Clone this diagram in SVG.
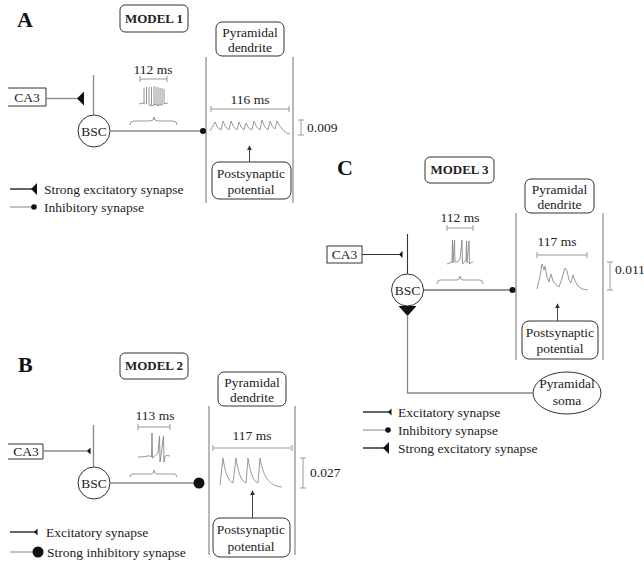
<svg xmlns="http://www.w3.org/2000/svg" width="644" height="561" viewBox="0 0 644 561">
  <style>
    text { font-family: "Liberation Serif", "Times New Roman", serif; font-size: 13.5px; fill: #222; }
    .panel { font-size: 22px; font-weight: bold; fill: #111; }
    .model { font-size: 13px; font-weight: bold; text-anchor: middle; }
    .mid { text-anchor: middle; }
    .box { fill: #fff; stroke: #333; stroke-width: 1; }
    .wire { fill: none; stroke: #888; stroke-width: 1.3; }
    .dark { fill: none; stroke: #333; stroke-width: 1.1; }
    .wall { fill: none; stroke: #888; stroke-width: 1.2; }
    .scale { fill: none; stroke: #999; stroke-width: 1; }
    .trace { fill: none; stroke: #999; stroke-width: 1; stroke-linejoin: round; }
    .spike { fill: none; stroke: #888; stroke-width: 0.9; }
    .arrow { fill: none; stroke: #444; stroke-width: 1; marker-end: url(#tip); }
    .syn { fill: #111; stroke: none; }
  </style>
  <defs>
    <marker id="tip" viewBox="0 0 6 6" refX="5" refY="3" markerWidth="5" markerHeight="5" orient="auto">
      <path d="M0,0 L6,3 L0,6 z" fill="#333"/>
    </marker>
  </defs>

  <!-- ===== Panel A : model 1 ===== -->
  <text class="panel" x="17" y="27">A</text>
  <g id="a-model">
    <rect class="box" x="120" y="5" width="68" height="27" rx="5"/>
    <text class="model" x="154" y="23">MODEL 1</text>
  </g>
  <g id="a-dendrite">
    <rect class="box" x="216" y="22" width="68" height="34" rx="6"/>
    <text class="mid" x="250" y="37">Pyramidal</text>
    <text class="mid" x="250" y="52">dendrite</text>
  </g>
  <g id="a-ca3">
    <path class="box" d="M8,88 H46 V106 H8" fill="none"/>
    <text class="mid" x="27" y="102">CA3</text>
  </g>
  <g id="a-bsc">
    <circle class="box" cx="94" cy="131" r="16"/>
    <text class="mid" x="94" y="136">BSC</text>
  </g>
  <g id="a-psp">
    <rect class="box" x="212" y="162" width="79" height="37" rx="7"/>
    <text class="mid" x="251" y="178">Postsynaptic</text>
    <text class="mid" x="251" y="194">potential</text>
  </g>
  <g id="a-connectors">
    <line class="wall" x1="206" y1="57" x2="206" y2="203"/>
    <line class="wall" x1="293" y1="57" x2="293" y2="203"/>
    <line class="wire" x1="46" y1="98.5" x2="78" y2="98.5"/>
    <polygon class="syn" points="77,98.5 84,91.5 84,105.5"/>
    <line class="wire" x1="93.5" y1="75" x2="93.5" y2="115"/>
    <line class="wire" x1="110" y1="131" x2="201" y2="131"/>
    <circle class="syn" cx="203" cy="131" r="3"/>
    <line class="arrow" x1="249.5" y1="162" x2="249.5" y2="146"/>
  </g>
  <g id="a-recordings">
    <text class="mid" x="153" y="74">112 ms</text>
    <path class="scale" d="M140,79 H167 M140,76 V82 M167,76 V82"/>
    <path class="spike" d="M139,104 Q143,102 145,104 M144,104 V88 M146.5,104 V87 M149,105 V87 M151.5,105 V87 M154,106 V86 M156,105 V87 M158,106 V87 M160,105 V88 M162,106 V88 M164,104 V89 M164,104 Q166,103 168,103 M149,105 Q152,107 155,104 Q158,107 162,104"/>
    <path class="scale" d="M130,125 Q130,121 134,121 H150 Q154,121 154,117 Q154,121 158,121 H173 Q177,121 177,125"/>
    <text class="mid" x="250" y="104">116 ms</text>
    <path class="scale" d="M211,109 H289 M211,106 V112 M289,106 V112"/>
    <path class="trace" d="M210,131 L215,122 Q217,129 221,130 L223,121 Q225,128 229,130 L231,121 Q233,128 237,130 L239,122 Q241,128 244,130 L246,123 Q248,129 252,130 L254,121 Q256,128 260,130 L262,120 Q264,128 268,130 L270,121 Q272,128 275,129 L277,121 Q283,133 290,134"/>
    <path class="scale" d="M301,120 V135 M298,120 H304 M298,135 H304"/>
    <text x="307" y="132">0.009</text>
  </g>
  <g id="a-legend">
    <line x1="10" y1="189" x2="32" y2="189" stroke="#111" stroke-width="1.3"/>
    <polygon class="syn" points="31,189 37,183 37,195"/>
    <text x="44" y="194">Strong excitatory synapse</text>
    <line x1="10" y1="207" x2="32" y2="207" stroke="#999" stroke-width="1.2"/>
    <circle class="syn" cx="34" cy="207" r="2.8"/>
    <text x="44" y="212">Inhibitory synapse</text>
  </g>

  <!-- ===== Panel B : model 2 ===== -->
  <text class="panel" x="18" y="372">B</text>
  <g id="b-model">
    <rect class="box" x="120" y="353" width="68" height="26" rx="5"/>
    <text class="model" x="154" y="370">MODEL 2</text>
  </g>
  <g id="b-dendrite">
    <rect class="box" x="218" y="372" width="68" height="34" rx="6"/>
    <text class="mid" x="252" y="387">Pyramidal</text>
    <text class="mid" x="252" y="402">dendrite</text>
  </g>
  <g id="b-ca3">
    <path class="box" d="M8,444 H43 V459 H8" fill="none"/>
    <text class="mid" x="26" y="456">CA3</text>
  </g>
  <g id="b-bsc">
    <circle class="box" cx="94" cy="483" r="16"/>
    <text class="mid" x="94" y="488">BSC</text>
  </g>
  <g id="b-psp">
    <rect class="box" x="213" y="518" width="77" height="39" rx="7"/>
    <text class="mid" x="251" y="534">Postsynaptic</text>
    <text class="mid" x="251" y="551">potential</text>
  </g>
  <g id="b-connectors">
    <line class="wall" x1="209" y1="406" x2="209" y2="555"/>
    <line class="wall" x1="295" y1="406" x2="295" y2="555"/>
    <line class="wire" x1="43" y1="451" x2="89" y2="451"/>
    <polygon class="syn" points="87,451 90.5,447.5 90.5,454.5"/>
    <line class="wire" x1="93.5" y1="425" x2="93.5" y2="467"/>
    <line class="wire" x1="110" y1="483" x2="195" y2="483"/>
    <circle class="syn" cx="199" cy="483" r="5.5"/>
    <line class="arrow" x1="252.5" y1="518" x2="252.5" y2="491"/>
  </g>
  <g id="b-recordings">
    <text class="mid" x="155" y="420">113 ms</text>
    <path class="scale" d="M138,427 H170 M138,424 V430 M170,424 V430"/>
    <path class="spike" d="M138,457 Q144,457 148,456 Q150,455 151.5,457 L152,433 L152.5,458 Q155,456 158,453 L159.5,436 L160,462 L161,455 L163.5,436 L164,462 L165,456 Q167,455 170,456"/>
    <path class="scale" d="M130,477 Q130,474 133,474 H151 Q154,474 154,470 Q154,474 157,474 H174 Q177,474 177,477"/>
    <text class="mid" x="252" y="440">117 ms</text>
    <path class="scale" d="M213,448 H292 M213,445 V451 M292,445 V451"/>
    <path class="trace" d="M220,485 L223,458 C225,472 228,481 233,483 L236,458 C238,472 241,481 246,483 L248,458 C250,472 253,481 258,483 L260,458 C263,475 268,486 282,487"/>
    <path class="scale" d="M303,458 V488 M300,458 H306 M300,488 H306"/>
    <text x="310" y="477">0.027</text>
  </g>
  <g id="b-legend">
    <line x1="10" y1="532" x2="35" y2="532" stroke="#111" stroke-width="1.3"/>
    <polygon class="syn" points="34,532 37.5,528.5 37.5,535.5"/>
    <text x="46" y="537">Excitatory synapse</text>
    <line x1="10" y1="552" x2="34" y2="552" stroke="#999" stroke-width="1.2"/>
    <circle class="syn" cx="38" cy="552" r="5.5"/>
    <text x="47" y="557">Strong inhibitory synapse</text>
  </g>

  <!-- ===== Panel C : model 3 ===== -->
  <text class="panel" x="337" y="175">C</text>
  <g id="c-model">
    <rect class="box" x="425" y="157" width="69" height="26" rx="5"/>
    <text class="model" x="459.5" y="174">MODEL 3</text>
  </g>
  <g id="c-dendrite">
    <rect class="box" x="525" y="179" width="69" height="34" rx="6"/>
    <text class="mid" x="559.5" y="194">Pyramidal</text>
    <text class="mid" x="559.5" y="209">dendrite</text>
  </g>
  <g id="c-ca3">
    <rect class="box" x="327" y="246" width="35" height="17"/>
    <text class="mid" x="344.5" y="259">CA3</text>
  </g>
  <g id="c-bsc">
    <circle class="box" cx="407.5" cy="290" r="16"/>
    <text class="mid" x="407.5" y="295">BSC</text>
  </g>
  <g id="c-psp">
    <rect class="box" x="522" y="321" width="76" height="38" rx="7"/>
    <text class="mid" x="560" y="337">Postsynaptic</text>
    <text class="mid" x="560" y="353">potential</text>
  </g>
  <g id="c-soma">
    <ellipse class="box" cx="567" cy="393" rx="34" ry="21"/>
    <text class="mid" x="567" y="388">Pyramidal</text>
    <text class="mid" x="567" y="405">soma</text>
  </g>
  <g id="c-connectors">
    <line class="wall" x1="516" y1="213" x2="516" y2="360"/>
    <line class="wall" x1="603" y1="213" x2="603" y2="360"/>
    <line class="dark" x1="362" y1="254.5" x2="402" y2="254.5"/>
    <polygon class="syn" points="399,254.5 402.5,251 402.5,258"/>
    <line class="dark" x1="407.5" y1="234" x2="407.5" y2="274"/>
    <line class="dark" x1="423.5" y1="290" x2="510" y2="290"/>
    <circle class="syn" cx="512.5" cy="290" r="3"/>
    <polygon class="syn" points="398.5,306 416.5,306 407.5,316"/>
    <polyline class="wire" points="407.5,315 407.5,393 533,393"/>
    <line class="arrow" x1="557.5" y1="321" x2="557.5" y2="304"/>
  </g>
  <g id="c-recordings">
    <text class="mid" x="460" y="222">112 ms</text>
    <path class="scale" d="M447,228 H473 M447,225 V231 M473,225 V231"/>
    <path class="spike" stroke-width="1.2" d="M447,264 Q450,263 452,262 L452.5,240 L453,263 L454.5,240 L455,262 Q458,263 460,259 L462,240 L462.5,264 Q464,262 466,260 L466.5,241 L467,263 L469,241 L469.5,264 Q471,262 473,262"/>
    <path class="scale" d="M437,284 Q437,280 440,280 H457 Q460,280 460,276 Q460,280 463,280 H480 Q483,280 483,284"/>
    <text class="mid" x="557" y="246">117 ms</text>
    <path class="scale" d="M537,255 H587 M537,252 V258 M587,252 V258"/>
    <path class="trace" d="M537,289 L540,276 L542,264 L544,270 L545,266 L547,277 L549,282 L551,274 L553,281 L556,285 L559,287 L562,278 L565,268 L567,271 L569,280 L571,283 L573,275 L575,281 L578,286 L582,289 L588,290"/>
    <path class="scale" d="M610,262 V290 M607,262 H613 M607,290 H613"/>
    <text x="615" y="274" font-size="13">0.011</text>
  </g>
  <g id="c-legend">
    <line x1="363" y1="412" x2="390" y2="412" stroke="#111" stroke-width="1.3"/>
    <polygon class="syn" points="388,412 391.5,408.5 391.5,415.5"/>
    <text x="398" y="417">Excitatory synapse</text>
    <line x1="363" y1="430" x2="386" y2="430" stroke="#999" stroke-width="1.2"/>
    <circle class="syn" cx="388" cy="430" r="2.8"/>
    <text x="398" y="435">Inhibitory synapse</text>
    <line x1="363" y1="448" x2="384" y2="448" stroke="#111" stroke-width="1.3"/>
    <polygon class="syn" points="383,448 389,442 389,454"/>
    <text x="398" y="453">Strong excitatory synapse</text>
  </g>
</svg>
